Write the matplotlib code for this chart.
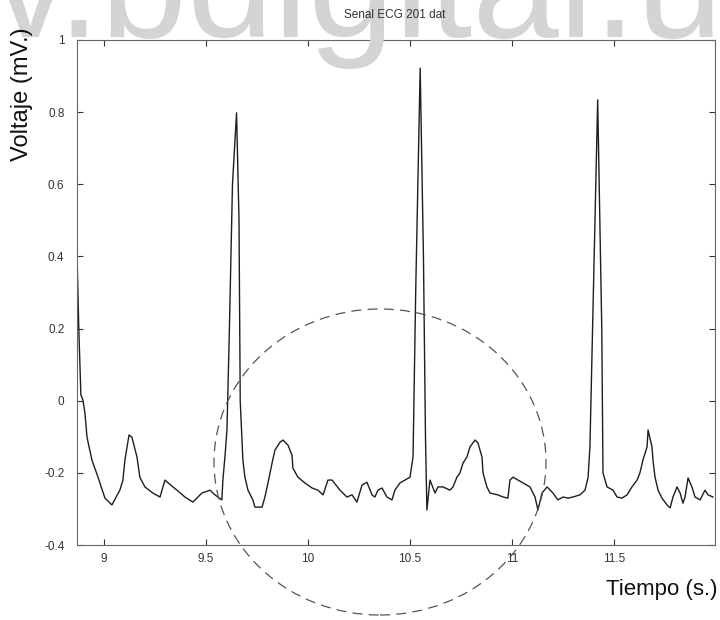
import matplotlib
matplotlib.use("Agg")
import matplotlib.pyplot as plt
from matplotlib.patches import Ellipse
import numpy as np

# ---- data ----
t = [8.868, 8.877, 8.887, 8.897, 8.907, 8.917, 8.941, 8.971, 9.005, 9.039,
     9.078, 9.093, 9.103, 9.123, 9.137, 9.162, 9.176, 9.201, 9.240, 9.275,
     9.299, 9.338, 9.358, 9.397, 9.436, 9.480, 9.520, 9.544, 9.578, 9.583,
     9.593, 9.603, 9.615, 9.630, 9.650, 9.662, 9.668, 9.681, 9.691, 9.706,
     9.730, 9.740, 9.775, 9.789, 9.804, 9.824, 9.838, 9.863, 9.877, 9.902,
     9.922, 9.926, 9.951, 9.985, 10.020, 10.049, 10.074, 10.098, 10.118, 10.157,
     10.191, 10.216, 10.240, 10.265, 10.289, 10.314, 10.328, 10.343, 10.363, 10.387,
     10.412, 10.426, 10.451, 10.475, 10.500, 10.515, 10.528, 10.550, 10.566, 10.576,
     10.583, 10.598, 10.623, 10.637, 10.662, 10.696, 10.711, 10.730, 10.745, 10.760,
     10.779, 10.794, 10.819, 10.833, 10.853, 10.858, 10.877, 10.892, 10.931, 10.956,
     10.980, 10.990, 11.005, 11.029, 11.054, 11.088, 11.113, 11.127, 11.147, 11.172,
     11.201, 11.225, 11.250, 11.275, 11.299, 11.333, 11.358, 11.373, 11.382, 11.395,
     11.420, 11.440, 11.446, 11.466, 11.495, 11.515, 11.539, 11.564, 11.588, 11.613,
     11.627, 11.642, 11.662, 11.667, 11.686, 11.691, 11.701, 11.716, 11.735, 11.760,
     11.775, 11.789, 11.809, 11.824, 11.838, 11.848, 11.863, 11.882, 11.897, 11.922,
     11.946, 11.961, 11.985]
v = [0.404, 0.196, 0.016, 0.002, -0.034, -0.101, -0.164, -0.212, -0.270, -0.289,
     -0.248, -0.220, -0.164, -0.095, -0.101, -0.156, -0.212, -0.239, -0.256, -0.267,
     -0.220, -0.239, -0.248, -0.267, -0.281, -0.256, -0.248, -0.261, -0.275, -0.220,
     -0.156, -0.081, 0.200, 0.600, 0.798, 0.500, 0.000, -0.164, -0.212, -0.248,
     -0.275, -0.295, -0.295, -0.267, -0.228, -0.173, -0.137, -0.115, -0.109, -0.123,
     -0.151, -0.187, -0.212, -0.228, -0.242, -0.248, -0.261, -0.220, -0.220, -0.248,
     -0.267, -0.261, -0.281, -0.234, -0.226, -0.261, -0.267, -0.248, -0.242, -0.267,
     -0.275, -0.248, -0.228, -0.220, -0.212, -0.156, 0.300, 0.922, 0.400, -0.100,
     -0.303, -0.220, -0.256, -0.239, -0.239, -0.248, -0.239, -0.212, -0.200, -0.173,
     -0.156, -0.128, -0.109, -0.117, -0.156, -0.200, -0.239, -0.256, -0.261, -0.267,
     -0.270, -0.220, -0.212, -0.220, -0.228, -0.239, -0.267, -0.303, -0.256, -0.239,
     -0.256, -0.275, -0.267, -0.270, -0.267, -0.261, -0.248, -0.212, -0.128, 0.200,
     0.834, 0.200, -0.200, -0.239, -0.248, -0.267, -0.270, -0.261, -0.239, -0.220,
     -0.200, -0.164, -0.128, -0.081, -0.128, -0.164, -0.212, -0.248, -0.270, -0.289,
     -0.297, -0.267, -0.239, -0.256, -0.284, -0.267, -0.214, -0.239, -0.267, -0.275,
     -0.248, -0.261, -0.267]

x_ticks = [9, 9.5, 10, 10.5, 11, 11.5]
x_tick_labels = ["9", "9.5", "10", "10.5", "11", "11.5"]
y_ticks = [-0.4, -0.2, 0, 0.2, 0.4, 0.6, 0.8, 1]
y_tick_labels = ["-0.4", "-0.2", "0", "0.2", "0.4", "0.6", "0.8", "1"]
title = "Senal ECG 201 dat"
xlabel = "Tiempo (s.)"
ylabel = "Voltaje (mV.)"
watermark = "v.bdigital.u"

plt.rcParams['font.family'] = ['Liberation Sans', 'DejaVu Sans']

fig = plt.figure(figsize=(7.2, 6.2), dpi=100)
fig.patch.set_facecolor("white")

# watermark behind everything
fig.text(-0.012, 1 - 37 / 620, watermark, fontsize=112, color="#d4d4d4",
         ha="left", va="baseline", zorder=0)

ax = fig.add_axes([77 / 720, 75 / 620, 638 / 720, 505 / 620])
ax.patch.set_alpha(0)
ax.plot(t, v, color="#1e1e1e", linewidth=1.0)
ax.set_xlim(8.868, 11.995)
ax.set_ylim(-0.4, 1)
ax.set_xticks(x_ticks)
ax.set_xticklabels(x_tick_labels)
ax.set_yticks(y_ticks)
ax.set_yticklabels(y_tick_labels)
ax.tick_params(direction="in", top=True, right=True, length=4, width=0.8,
               labelsize=8.5, labelcolor="#333333", color="#333333")
ax.tick_params(axis="y", pad=9)
ax.tick_params(axis="x", pad=6)
for s in ax.spines.values():
    s.set_color("#666666")
    s.set_linewidth(0.8)

fig.text(395 / 720, 1 - 15 / 620, title, fontsize=8.5, color="#333333",
         ha="center", va="center")
fig.text(22 / 720, 1 - 94 / 620, ylabel, fontsize=17, rotation=90,
         ha="center", va="center", color="#111111")
fig.text(717 / 720, 1 - 590 / 620, xlabel, fontsize=16,
         ha="right", va="center", color="#111111")

# dashed circle annotation
ell = Ellipse((380 / 720, 1 - 462 / 620), 332 / 720, 306 / 620,
              transform=fig.transFigure, fill=False, edgecolor="#555555",
              linewidth=0.9, linestyle=(0, (8, 5)), zorder=5)
fig.patches.append(ell)

fig.savefig("out.png", dpi=100)
